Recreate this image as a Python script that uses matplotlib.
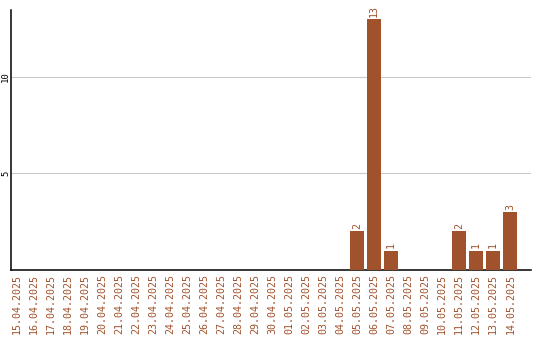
import matplotlib
matplotlib.use("Agg")
import matplotlib.pyplot as plt

dates = ["15.04.2025", "16.04.2025", "17.04.2025", "18.04.2025", "19.04.2025",
         "20.04.2025", "21.04.2025", "22.04.2025", "23.04.2025", "24.04.2025",
         "25.04.2025", "26.04.2025", "27.04.2025", "28.04.2025", "29.04.2025",
         "30.04.2025", "01.05.2025", "02.05.2025", "03.05.2025", "04.05.2025",
         "05.05.2025", "06.05.2025", "07.05.2025", "08.05.2025", "09.05.2025",
         "10.05.2025", "11.05.2025", "12.05.2025", "13.05.2025", "14.05.2025"]
counts = [0, 0, 0, 0, 0, 0, 0, 0, 0, 0,
          0, 0, 0, 0, 0, 0, 0, 0, 0, 0,
          2, 13, 1, 0, 0, 0, 2, 1, 1, 3]
yticks = [5, 10]

color = "#A0522D"
mono = "DejaVu Sans Mono"

fig = plt.figure(figsize=(5.4, 3.4), dpi=100)
ax = fig.add_axes([10.5 / 540, 1 - 270 / 340, 520.2 / 540, 260 / 340])

x = list(range(len(dates)))
ax.bar(x, counts, width=0.82, color=color, zorder=3)
for xi, v in zip(x, counts):
    if v > 0:
        ax.text(xi, v + 0.12, str(v), rotation=90, ha="center", va="bottom",
                color=color, fontsize=7.2, family=mono)

ax.set_xlim(-0.38, 30.2)
ax.set_ylim(0, 13.47)
ax.set_yticks(yticks)
ax.set_yticklabels([str(t) for t in yticks], rotation=90, va="center",
                   fontsize=6.5, family=mono)
ax.set_xticks(x)
ax.set_xticklabels(dates, rotation=90, color=color, fontsize=7.2, family=mono)
ax.tick_params(axis="both", length=0, pad=3)
ax.tick_params(axis="y", pad=0.3)
ax.grid(axis="y", color="#c8c8c8", linewidth=0.75, zorder=0)
for s in ("top", "right"):
    ax.spines[s].set_visible(False)
for s in ("left", "bottom"):
    ax.spines[s].set_color("black")
    ax.spines[s].set_linewidth(1.1)

fig.savefig("out.png", dpi=100)
